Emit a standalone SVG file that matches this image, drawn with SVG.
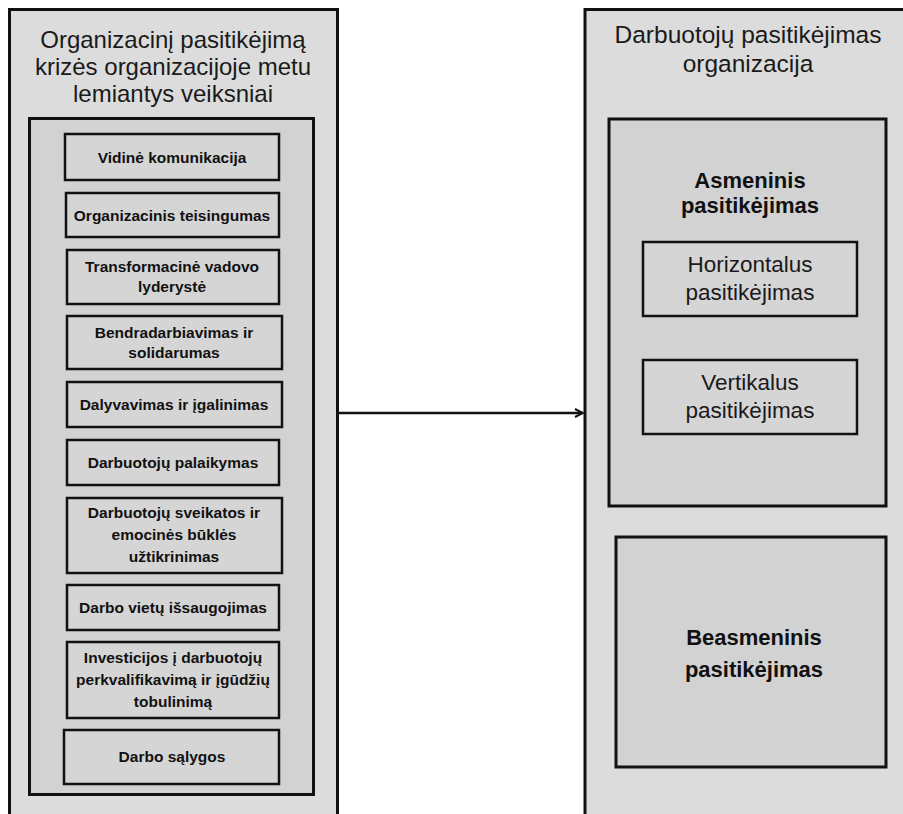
<svg xmlns="http://www.w3.org/2000/svg" width="903" height="814" viewBox="0 0 903 814">
  <defs>
    <style>
      .outer { fill: #dcdcdc; stroke: #111; stroke-width: 3; }
      .inner { fill: #d2d2d2; stroke: #111; stroke-width: 3; }
      .item { fill: #d5d5d5; stroke: #111; stroke-width: 2.5; }
      .title { font-family: "Liberation Sans", Arial, sans-serif; font-size: 24px; fill: #1a1a1a; text-anchor: middle; }
      .itext { font-family: "Liberation Sans", Arial, sans-serif; font-size: 15.5px; font-weight: bold; fill: #111; text-anchor: middle; }
      .btext { font-family: "Liberation Sans", Arial, sans-serif; font-size: 22px; font-weight: bold; fill: #111; text-anchor: middle; }
      .rtext { font-family: "Liberation Sans", Arial, sans-serif; font-size: 22.5px; fill: #1a1a1a; text-anchor: middle; }
      .conn { stroke: #111; stroke-width: 2.5; fill: none; }
    </style>
    <marker id="arrow" viewBox="0 0 10 10" refX="9" refY="5" markerWidth="4" markerHeight="4" orient="auto" markerUnits="strokeWidth">
      <path d="M1,1 L9,5 L1,9" fill="none" stroke="#111" stroke-width="2"/>
    </marker>
  </defs>
  <rect width="903" height="814" fill="#ffffff"/>

  <g id="left-panel">
    <rect class="outer" x="9.5" y="9.5" width="328" height="820"/>
    <text class="title" x="173" y="48">Organizacinį pasitikėjimą</text>
    <text class="title" x="173" y="75">krizės organizacijoje metu</text>
    <text class="title" x="173" y="102">lemiantys veiksniai</text>
  </g>
  <g id="factors">
    <rect class="inner" x="29.5" y="118.5" width="284" height="676"/>
  </g>
  <g id="f1"><rect class="item" x="65" y="134" width="214" height="46"/><text class="itext" x="172" y="163">Vidinė komunikacija</text></g>
  <g id="f2"><rect class="item" x="66" y="193" width="213" height="44"/><text class="itext" x="172" y="221">Organizacinis teisingumas</text></g>
  <g id="f3"><rect class="item" x="67" y="250" width="212" height="54"/><text class="itext" x="172" y="272">Transformacinė vadovo</text><text class="itext" x="172" y="292">lyderystė</text></g>
  <g id="f4"><rect class="item" x="67" y="316" width="215" height="53"/><text class="itext" x="174" y="338">Bendradarbiavimas ir</text><text class="itext" x="174" y="358">solidarumas</text></g>
  <g id="f5"><rect class="item" x="67" y="382" width="215" height="45"/><text class="itext" x="174" y="410">Dalyvavimas ir įgalinimas</text></g>
  <g id="f6"><rect class="item" x="67" y="440" width="212" height="45"/><text class="itext" x="173" y="468">Darbuotojų palaikymas</text></g>
  <g id="f7"><rect class="item" x="67" y="498" width="215" height="75"/><text class="itext" x="174" y="518">Darbuotojų sveikatos ir</text><text class="itext" x="174" y="540">emocinės būklės</text><text class="itext" x="174" y="562">užtikrinimas</text></g>
  <g id="f8"><rect class="item" x="67" y="585" width="212" height="45"/><text class="itext" x="173" y="613">Darbo vietų išsaugojimas</text></g>
  <g id="f9"><rect class="item" x="67" y="642" width="212" height="76"/><text class="itext" x="173" y="663">Investicijos į darbuotojų</text><text class="itext" x="173" y="685">perkvalifikavimą ir įgūdžių</text><text class="itext" x="173" y="707">tobulinimą</text></g>
  <g id="f10"><rect class="item" x="64" y="730" width="215" height="54"/><text class="itext" x="172" y="762">Darbo sąlygos</text></g>

  <g id="right-panel">
    <rect class="outer" x="585" y="9.5" width="340" height="820"/>
    <text class="title" x="748" y="43" style="font-size:24.5px">Darbuotojų pasitikėjimas</text>
    <text class="title" x="748" y="72" style="font-size:24.5px">organizacija</text>
  </g>
  <g id="personal">
    <rect class="inner" x="609" y="119" width="277" height="387"/>
    <text class="btext" x="750" y="188">Asmeninis</text>
    <text class="btext" x="750" y="213">pasitikėjimas</text>
  </g>
  <g id="horizontal">
    <rect class="item" x="643" y="242" width="214" height="74"/>
    <text class="rtext" x="750" y="272">Horizontalus</text>
    <text class="rtext" x="750" y="300">pasitikėjimas</text>
  </g>
  <g id="vertical">
    <rect class="item" x="643" y="360" width="214" height="74"/>
    <text class="rtext" x="750" y="390">Vertikalus</text>
    <text class="rtext" x="750" y="418">pasitikėjimas</text>
  </g>
  <g id="impersonal">
    <rect class="inner" x="616" y="537" width="270" height="230"/>
    <text class="btext" x="754" y="645">Beasmeninis</text>
    <text class="btext" x="754" y="677">pasitikėjimas</text>
  </g>

  <g id="connectors">
    <line class="conn" x1="339" y1="413" x2="583" y2="413" marker-end="url(#arrow)"/>
  </g>
</svg>
